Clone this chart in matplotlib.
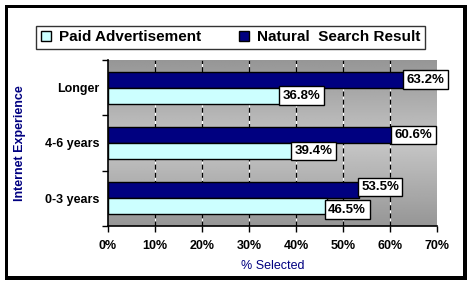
import numpy as np
import matplotlib
matplotlib.use('Agg')
import matplotlib.pyplot as plt
from matplotlib.patches import Rectangle, Patch

plt.rcParams['font.family'] = ['Liberation Sans', 'DejaVu Sans']
plt.rcParams['font.weight'] = 'bold'

categories = ['0-3 years', '4-6 years', 'Longer']
paid = [46.5, 39.4, 36.8]
natural = [53.5, 60.6, 63.2]
xticks = [0, 10, 20, 30, 40, 50, 60, 70]

W, H = 474, 285
fig = plt.figure(figsize=(W / 100, H / 100), dpi=100)

# frame: thin on left/top, heavier on right/bottom (pixel coords from top-left)
def px(x, y):
    return x / W, 1 - y / H

ox, oy = px(5, 280)
fig.patches.append(Rectangle((ox, oy), 462 / W, 275 / H, transform=fig.transFigure,
                             facecolor='black', edgecolor='none', zorder=0))
ix, iy = px(7.5, 276)
fig.patches.append(Rectangle((ix, iy), 455.5 / W, 268.5 / H, transform=fig.transFigure,
                             facecolor='white', edgecolor='none', zorder=1))

ax = fig.add_axes([108 / W, 1 - 226 / H, 329 / W, 166 / H])
ax.set_zorder(2)

# gray gradient behind the bars
t = np.linspace(0, 1, 200)
g = 150 + 48 * (1 - np.abs(t - 0.5) * 2)
grad = np.repeat((g / 255)[:, None], 2, axis=1)
ax.imshow(grad, cmap='gray', vmin=0, vmax=1, extent=[0, 70, -0.5, 2.5],
          aspect='auto', zorder=0, interpolation='bilinear')

y = np.arange(len(categories))
h = 0.29
ax.barh(y + h / 2, natural, height=h, color='#000080', edgecolor='black', lw=1, zorder=3)
ax.barh(y - h / 2, paid, height=h, color='#CCFFFF', edgecolor='black', lw=1, zorder=3)

for xv in xticks[1:-1]:
    ax.axvline(xv, color='white', lw=0.8, zorder=1)
    ax.axvline(xv, color='black', lw=0.9, ls=(0, (4, 2.5)), zorder=1)

nudge_nat = [0.06, 0, 0]
nudge_paid = [-0.06, 0, 0]
box = dict(facecolor='white', edgecolor='black', lw=1, pad=2.5)
for i in range(len(categories)):
    ax.text(natural[i] + 0.35, y[i] + h / 2 + nudge_nat[i], f'{natural[i]:.1f}%',
            ha='left', va='center', fontsize=9.5, bbox=box, zorder=5)
    ax.text(paid[i] + 0.35, y[i] - h / 2 + nudge_paid[i], f'{paid[i]:.1f}%',
            ha='left', va='center', fontsize=9.5, bbox=box, zorder=5)

ax.set_xlim(0, 70)
ax.set_ylim(-0.5, 2.5)
ax.set_xticks(xticks)
ax.set_xticklabels([f'{v}%' for v in xticks], fontsize=9)
ax.set_yticks([-0.5, 0.5, 1.5, 2.5])
ax.set_yticklabels([])
ax.set_yticks(y, minor=True)
ax.set_yticklabels(categories, minor=True, fontsize=9)
ax.tick_params(axis='y', which='minor', length=0, pad=6)
ax.tick_params(axis='both', which='major', direction='out', length=4, width=1, color='black')
ax.tick_params(axis='x', pad=6)
for s in ['top', 'right']:
    ax.spines[s].set_visible(False)
for s in ['left', 'bottom']:
    ax.spines[s].set_linewidth(1.2)

ax.set_xlabel('% Selected', color='#000080', fontsize=9, labelpad=6)
fig.text(20 / W, 1 - 143 / H, 'Internet Experience', rotation=90, color='#000080',
         fontsize=9, ha='center', va='center')

handles = [Patch(facecolor='#CCFFFF', edgecolor='black', lw=1),
           Patch(facecolor='#000080', edgecolor='black', lw=1)]
lx, ly = px(36, 49)
leg = fig.legend(handles, ['Paid Advertisement', 'Natural  Search Result'], ncol=2,
                 loc='lower left', bbox_to_anchor=(lx, ly, 389 / W, 28 / H), mode='expand',
                 fontsize=11, frameon=True, fancybox=False, edgecolor='black',
                 handlelength=0.7, handleheight=0.7, handletextpad=0.5,
                 borderaxespad=0, borderpad=0.3)
leg.get_frame().set_linewidth(1)
leg.set_zorder(3)

fig.savefig('out.png', dpi=100)
